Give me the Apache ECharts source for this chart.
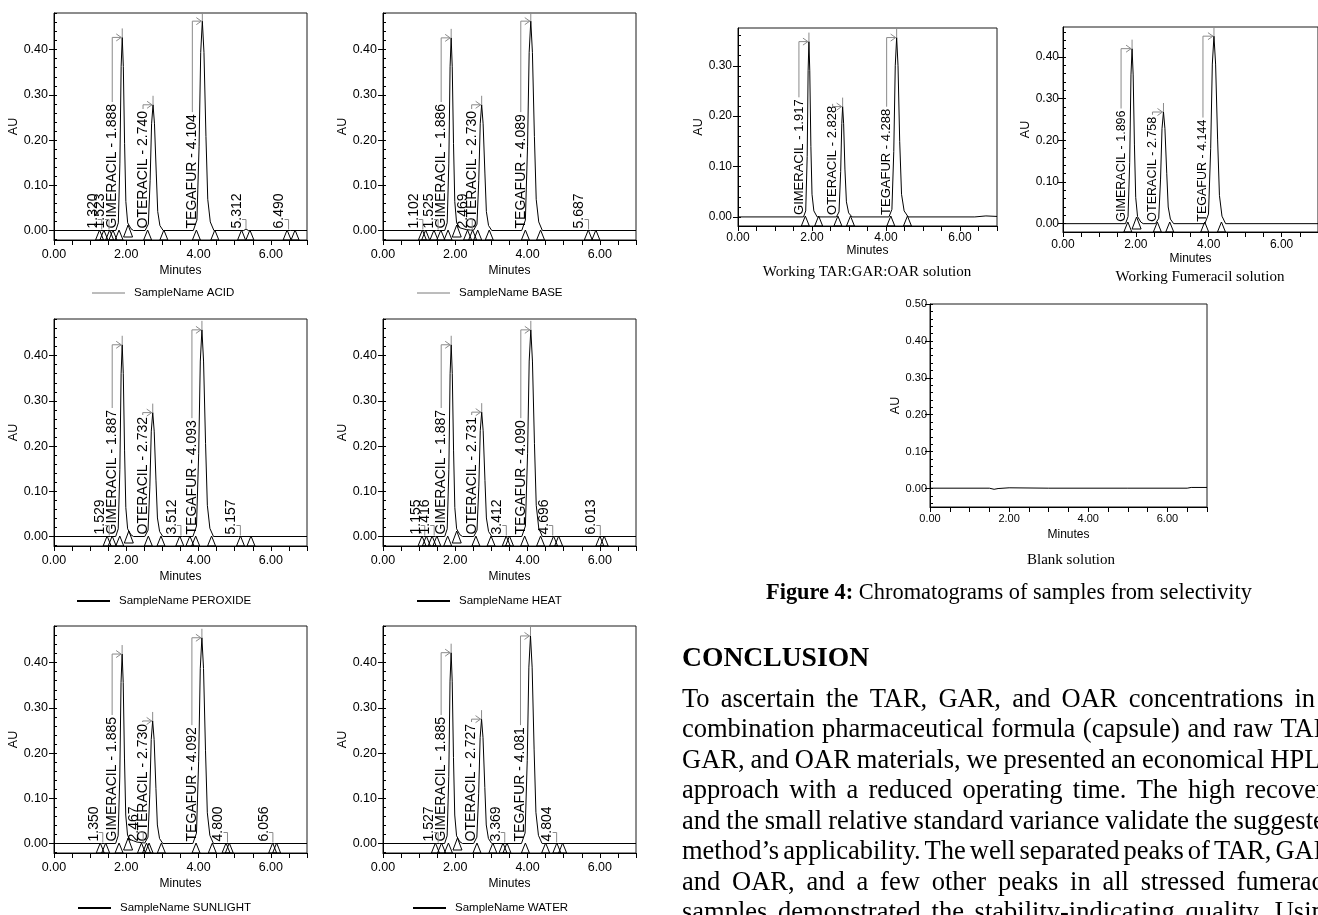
<!DOCTYPE html>
<html><head><meta charset="utf-8">
<script src="https://cdn.jsdelivr.net/npm/echarts@6/dist/echarts.min.js"></script>
<style>html,body{margin:0;padding:0;background:#fff}#c{width:1318px;height:915px}</style>
</head><body><div id="c"></div>
<script>
// ================= DATA =================
const minuteLabels = [0, 2, 4, 6];
const yLabelsSample = [0, 0.1, 0.2, 0.3, 0.4];
const yLabelsTAR = [0, 0.1, 0.2, 0.3];
const yLabelsFum = [0, 0.1, 0.2, 0.3, 0.4];
const yLabelsBlank = [0, 0.1, 0.2, 0.3, 0.4, 0.5];
const peakNames = ['GIMERACIL', 'OTERACIL', 'TEGAFUR'];
const sampleNames = ['SampleName ACID', 'SampleName BASE', 'SampleName PEROXIDE', 'SampleName HEAT', 'SampleName SUNLIGHT', 'SampleName WATER'];
const panelCaptions = ['Working TAR:GAR:OAR solution', 'Working Fumeracil solution', 'Blank solution'];

// ACID
const acidTrace = [[0,0],[1.28,0],[1.32,0.003],[1.36,0],[1.49,0],[1.523,0.004],[1.57,0],[1.71,0],[1.78,0.017],[1.823,0.149],[1.858,0.363],[1.888,0.427],[1.918,0.363],[1.953,0.192],[1.988,0.064],[2.038,0.017],[2.13,0.004],[2.2,0],[2.52,0],[2.61,0.014],[2.66,0.111],[2.70,0.236],[2.74,0.278],[2.78,0.236],[2.83,0.125],[2.87,0.042],[2.93,0.011],[3.02,0],[3.854,0],[3.954,0.023],[4.014,0.185],[4.059,0.394],[4.104,0.463],[4.149,0.394],[4.204,0.208],[4.254,0.069],[4.324,0.019],[4.424,0],[5.25,0],[5.312,0.003],[5.38,0],[6.44,0],[6.49,0.002],[6.55,0],[7,0]];
const acidRT = [1.888, 2.740, 4.104];
const acidAU = [0.427, 0.278, 0.463];
const acidMinor = [1.320, 1.523, 5.312, 6.490];
const acidTri = [[1.26,0],[1.38,0],[1.54,0],[1.63,0],[1.80,0],[2.05,1],[2.59,0],[3.04,0],[3.94,0],[4.45,0],[5.19,0],[5.42,0],[6.45,0],[6.67,0]];

// BASE
const baseTrace = [[0,0],[1.06,0],[1.102,0.002],[1.15,0],[1.48,0],[1.525,0.003],[1.57,0],[1.706,0],[1.776,0.017],[1.821,0.149],[1.856,0.362],[1.886,0.426],[1.916,0.362],[1.951,0.192],[1.986,0.064],[2.036,0.017],[2.126,0.006],[2.3,0.002],[2.42,0.001],[2.469,0.003],[2.51,0.001],[2.60,0.014],[2.65,0.111],[2.69,0.236],[2.73,0.278],[2.77,0.236],[2.82,0.125],[2.86,0.042],[2.92,0.011],[3.01,0],[3.839,0],[3.939,0.023],[3.999,0.185],[4.044,0.394],[4.089,0.463],[4.134,0.394],[4.189,0.208],[4.239,0.069],[4.309,0.019],[4.409,0],[5.64,0],[5.687,0.002],[5.74,0],[7,0]];
const baseRT = [1.886, 2.730, 4.089];
const baseAU = [0.426, 0.278, 0.463];
const baseMinor = [1.102, 1.525, 2.469, 5.687];
const baseTri = [[1.09,0],[1.18,0],[1.41,0],[1.60,0],[1.80,0],[2.04,1],[2.34,0],[2.48,0],[2.62,0],[2.94,0],[3.94,0],[4.36,0],[5.68,0],[5.89,0]];

// PEROXIDE
const peroxTrace = [[0,0],[1.49,0],[1.529,0.003],[1.57,0],[1.707,0],[1.777,0.017],[1.822,0.148],[1.857,0.36],[1.887,0.424],[1.917,0.36],[1.952,0.191],[1.987,0.064],[2.037,0.017],[2.127,0.004],[2.2,0],[2.512,0],[2.602,0.014],[2.652,0.11],[2.692,0.233],[2.732,0.274],[2.772,0.233],[2.822,0.123],[2.862,0.041],[2.922,0.011],[3.012,0],[3.47,0],[3.512,0.002],[3.56,0],[3.843,0],[3.943,0.023],[4.003,0.183],[4.048,0.388],[4.093,0.457],[4.138,0.388],[4.193,0.206],[4.243,0.069],[4.313,0.018],[4.413,0],[5.11,0],[5.157,0.002],[5.2,0],[7,0]];
const peroxRT = [1.887, 2.732, 4.093];
const peroxAU = [0.424, 0.274, 0.457];
const peroxMinor = [1.529, 3.512, 5.157];
const peroxTri = [[1.47,0],[1.61,0],[1.82,0],[2.07,1],[2.61,0],[2.96,0],[3.48,0],[3.76,0],[3.92,0],[4.36,0],[5.16,0],[5.45,0]];

// HEAT
const heatTrace = [[0,0],[1.12,0],[1.155,0.002],[1.19,0],[1.38,0],[1.416,0.003],[1.45,0],[1.707,0],[1.777,0.017],[1.822,0.148],[1.857,0.36],[1.887,0.424],[1.917,0.36],[1.952,0.191],[1.987,0.064],[2.037,0.017],[2.127,0.004],[2.2,0],[2.511,0],[2.601,0.014],[2.651,0.11],[2.691,0.234],[2.731,0.275],[2.771,0.234],[2.821,0.124],[2.861,0.041],[2.921,0.011],[3.011,0],[3.37,0],[3.412,0.002],[3.45,0],[3.84,0],[3.94,0.023],[4.0,0.183],[4.045,0.388],[4.09,0.457],[4.135,0.388],[4.19,0.206],[4.24,0.069],[4.31,0.018],[4.41,0],[4.65,0],[4.696,0.002],[4.74,0],[5.97,0],[6.013,0.002],[6.06,0],[7,0]];
const heatRT = [1.887, 2.731, 4.090];
const heatAU = [0.424, 0.275, 0.457];
const heatMinor = [1.155, 1.416, 3.412, 4.696, 6.013];
const heatTri = [[1.08,0],[1.20,0],[1.36,0],[1.49,0],[1.79,0],[2.04,1],[2.57,0],[2.99,0],[3.41,0],[3.50,0],[3.92,0],[4.36,0],[4.72,0],[4.86,0],[6.00,0],[6.12,0]];

// SUNLIGHT
const sunTrace = [[0,0],[1.31,0],[1.35,0.003],[1.39,0],[1.705,0],[1.775,0.017],[1.82,0.147],[1.855,0.356],[1.885,0.419],[1.915,0.356],[1.95,0.189],[1.985,0.063],[2.035,0.018],[2.1,0.009],[2.2,0.006],[2.3,0.003],[2.43,0.002],[2.467,0.004],[2.51,0.001],[2.60,0.014],[2.65,0.108],[2.69,0.23],[2.73,0.271],[2.77,0.23],[2.82,0.122],[2.86,0.041],[2.92,0.011],[3.01,0],[3.842,0],[3.942,0.023],[4.002,0.182],[4.047,0.387],[4.092,0.455],[4.137,0.387],[4.192,0.205],[4.242,0.068],[4.312,0.018],[4.412,0],[4.76,0],[4.8,0.002],[4.84,0],[6.01,0],[6.056,0.002],[6.1,0],[7,0]];
const sunRT = [1.885, 2.730, 4.092];
const sunAU = [0.419, 0.271, 0.455];
const sunMinor = [1.350, 2.467, 4.800, 6.056];
const sunTri = [[1.28,0],[1.43,0],[1.80,0],[2.05,1],[2.42,0],[2.56,0],[2.63,0],[2.97,0],[3.93,0],[4.38,0],[4.76,0],[4.85,0],[6.05,0],[6.16,0]];

// WATER
const waterTrace = [[0,0],[1.49,0],[1.527,0.003],[1.57,0],[1.705,0],[1.775,0.017],[1.82,0.148],[1.855,0.359],[1.885,0.422],[1.915,0.359],[1.95,0.19],[1.985,0.063],[2.035,0.017],[2.125,0.004],[2.2,0],[2.507,0],[2.597,0.014],[2.647,0.11],[2.687,0.234],[2.727,0.275],[2.767,0.234],[2.817,0.124],[2.857,0.041],[2.917,0.011],[3.007,0],[3.33,0],[3.369,0.002],[3.41,0],[3.831,0],[3.931,0.023],[3.991,0.184],[4.036,0.39],[4.081,0.459],[4.126,0.39],[4.181,0.207],[4.231,0.069],[4.301,0.018],[4.401,0],[4.76,0],[4.804,0.002],[4.85,0],[7,0]];
const waterRT = [1.885, 2.727, 4.081];
const waterAU = [0.422, 0.275, 0.459];
const waterMinor = [1.527, 3.369, 4.804];
const waterTri = [[1.45,0],[1.62,0],[1.81,0],[2.06,1],[2.60,0],[3.04,0],[3.32,0],[3.43,0],[3.94,0],[4.50,0],[4.81,0],[4.97,0]];

// Working TAR:GAR:OAR solution
const tarTrace = [[0,0],[1.77,0],[1.83,0.012],[1.87,0.12],[1.895,0.29],[1.917,0.348],[1.94,0.29],[1.97,0.14],[2.0,0.045],[2.05,0.012],[2.14,0],[2.66,0],[2.73,0.01],[2.775,0.09],[2.805,0.185],[2.828,0.219],[2.855,0.185],[2.89,0.095],[2.93,0.03],[2.99,0.008],[3.08,0],[4.08,0],[4.16,0.015],[4.21,0.13],[4.25,0.3],[4.288,0.356],[4.325,0.3],[4.37,0.15],[4.42,0.045],[4.49,0.012],[4.6,0],[6.4,0],[6.7,0.002],[7,0.001]];
const tarRT = [1.917, 2.828, 4.288];
const tarAU = [0.348, 0.219, 0.356];
const tarMinor = [];
const tarTri = [[1.82,0],[2.18,0],[2.70,0],[3.04,0],[4.13,0],[4.58,0]];

// Working Fumeracil solution
const fumTrace = [[0,0],[1.716,0],[1.786,0.017],[1.831,0.147],[1.866,0.357],[1.896,0.42],[1.926,0.357],[1.961,0.189],[1.996,0.063],[2.046,0.017],[2.136,0.004],[2.2,0],[2.538,0],[2.628,0.013],[2.678,0.107],[2.718,0.228],[2.758,0.268],[2.798,0.228],[2.848,0.121],[2.888,0.04],[2.948,0.011],[3.038,0],[3.894,0],[3.994,0.023],[4.054,0.18],[4.099,0.383],[4.144,0.45],[4.189,0.383],[4.244,0.203],[4.294,0.068],[4.364,0.018],[4.464,0],[7,0]];
const fumRT = [1.896, 2.758, 4.144];
const fumAU = [0.42, 0.268, 0.45];
const fumMinor = [];
const fumTri = [[1.78,0],[2.02,1],[2.59,0],[2.93,0],[3.89,0],[4.35,0]];

// Blank solution
const blankTrace = [[0,0.001],[1.5,0.001],[1.62,-0.002],[1.72,0],[2.0,0.002],[3.0,0.001],[5.0,0.001],[6.5,0.001],[6.6,0.003],[7,0.003]];

const paragraphLines = [
  'To ascertain the TAR, GAR, and OAR concentrations in a',
  'combination pharmaceutical formula (capsule) and raw TAR,',
  'GAR, and OAR materials, we presented an economical HPLC',
  'approach with a reduced operating time. The high recovery',
  'and the small relative standard variance validate the suggested',
  'method\u2019s applicability. The well separated peaks of TAR, GAR,',
  'and OAR, and a few other peaks in all stressed fumeracil',
  'samples demonstrated the stability-indicating quality. Using'
];

// ================= LAYOUT =================
const SANS = '"Liberation Sans", Arial, sans-serif';
const SERIF = '"Liberation Serif", "Times New Roman", serif';
const GRAY = '#8a8a8a';
const mctx = document.createElement('canvas').getContext('2d');
function measure(t, font) { mctx.font = font; return mctx.measureText(t).width; }

const leftStyle = {tick: 12.5, mx: 8, my: 6, gx: 25, gy: 30, lbl: 14, dx: -10};
const panels = [
  {trace: acidTrace, rt: acidRT, au: acidAU, minor: acidMinor, tri: acidTri, yl: yLabelsSample, box: [54, 13, 253, 227], y: [-0.021, 0.481], st: leftStyle},
  {trace: baseTrace, rt: baseRT, au: baseAU, minor: baseMinor, tri: baseTri, yl: yLabelsSample, box: [383, 13, 253, 227], y: [-0.021, 0.481], st: leftStyle},
  {trace: peroxTrace, rt: peroxRT, au: peroxAU, minor: peroxMinor, tri: peroxTri, yl: yLabelsSample, box: [54, 319, 253, 227], y: [-0.021, 0.481], st: leftStyle},
  {trace: heatTrace, rt: heatRT, au: heatAU, minor: heatMinor, tri: heatTri, yl: yLabelsSample, box: [383, 319, 253, 227], y: [-0.021, 0.481], st: leftStyle},
  {trace: sunTrace, rt: sunRT, au: sunAU, minor: sunMinor, tri: sunTri, yl: yLabelsSample, box: [54, 626, 253, 227], y: [-0.021, 0.481], st: leftStyle},
  {trace: waterTrace, rt: waterRT, au: waterAU, minor: waterMinor, tri: waterTri, yl: yLabelsSample, box: [383, 626, 253, 227], y: [-0.021, 0.481], st: leftStyle},
  {trace: tarTrace, rt: tarRT, au: tarAU, minor: tarMinor, tri: tarTri, yl: yLabelsTAR, box: [738, 28, 259, 198], y: [-0.018, 0.375], st: {tick: 12, mx: 6, my: 6, gx: 19, gy: 31, lbl: 13, dx: -10}},
  {trace: fumTrace, rt: fumRT, au: fumAU, minor: fumMinor, tri: fumTri, yl: yLabelsFum, box: [1063, 27, 265, 205], y: [-0.02, 0.472], st: {tick: 12, mx: 7, my: 4, gx: 21, gy: 30, lbl: 12.5, dx: -11}},
  {trace: blankTrace, rt: [], au: [], minor: [], tri: [], yl: yLabelsBlank, box: [930, 304, 277, 203], y: [-0.05, 0.5], st: {tick: 11, mx: 6, my: 3, gx: 22, gy: 26, lbl: 11, dx: -10}}
];

const halfMinuteTicks = [];
for (let v = 0; v <= 7.0001; v += 0.5) halfMinuteTicks.push(+v.toFixed(2));

function minorTicks(lo, hi) {
  const out = [];
  for (let k = Math.ceil(lo / 0.02 - 1e-9); k * 0.02 <= hi + 1e-9; k++) out.push(+(k * 0.02).toFixed(3));
  return out;
}

function majorRenderer(p) {
  return function (params, api) {
    const k = params.dataIndex;
    const rt = api.value(0), h = api.value(1);
    const base = api.coord([rt, 0]);
    const apex = api.coord([rt, h]);
    const txt = peakNames[k] + ' - ' + p.rt[k].toFixed(3);
    const font = p.st.lbl + 'px ' + SANS;
    const w = measure(txt, font);
    const px = base[0], ay = apex[1];
    const lx = px + p.st.dx;
    const ty = base[1] - 2;
    const topY = ty - w - 2;
    return {type: 'group', children: [
      {type: 'text', x: lx, y: ty, rotation: Math.PI / 2,
        style: {text: txt, font: font, fill: '#000', align: 'left', verticalAlign: 'middle', textAlign: 'left', textVerticalAlign: 'middle'}},
      {type: 'polyline', shape: {points: [[lx, topY], [lx, ay], [px - 1, ay]]}, style: {stroke: GRAY, fill: null, lineWidth: 1}},
      {type: 'polyline', shape: {points: [[px - 6, ay - 3.5], [px - 1, ay], [px - 6, ay + 3.5]]}, style: {stroke: GRAY, fill: null, lineWidth: 1}},
      {type: 'line', shape: {x1: px, y1: ay, x2: px, y2: ay - 9}, style: {stroke: GRAY, lineWidth: 1}}
    ]};
  };
}

function minorRenderer(p) {
  return function (params, api) {
    const rt = api.value(0);
    const base = api.coord([rt, 0]);
    const px = base[0];
    const lx = px + p.st.dx + 1;
    const font = p.st.lbl + 'px ' + SANS;
    const txt = p.minor[params.dataIndex].toFixed(3);
    return {type: 'group', children: [
      {type: 'text', x: lx, y: base[1] - 2, rotation: Math.PI / 2,
        style: {text: txt, font: font, fill: '#000', align: 'left', verticalAlign: 'middle', textAlign: 'left', textVerticalAlign: 'middle'}},
      {type: 'polyline', shape: {points: [[px - 4, base[1] - 11], [px, base[1] - 11], [px, base[1] - 1]]}, style: {stroke: GRAY, fill: null, lineWidth: 1}}
    ]};
  };
}

function triRenderer(params, api) {
  const t = api.value(0), raised = api.value(1);
  const cs = params.coordSys;
  const bottom = cs.y + cs.height;
  const x = api.coord([t, 0])[0];
  const by = raised ? bottom - 3 : bottom;
  const hgt = raised ? 12 : 10, hw = raised ? 4.5 : 4;
  return {type: 'polygon', shape: {points: [[x - hw, by], [x + hw, by], [x, by - hgt]]}, style: {stroke: '#000', fill: null, lineWidth: 1}};
}

const grid = [], xAxis = [], yAxis = [], series = [];
panels.forEach((p, i) => {
  const [l, t, w, h] = p.box;
  const st = p.st;
  grid.push({left: l, top: t, width: w, height: h, show: true, borderColor: '#1a1a1a', borderWidth: 1, backgroundColor: 'transparent'});
  xAxis.push({
    gridIndex: i, type: 'value', min: 0, max: 7,
    axisLine: {show: true, onZero: false, lineStyle: {color: '#000', width: 1}},
    axisTick: {show: true, customValues: halfMinuteTicks, length: 5, lineStyle: {color: '#000'}},
    axisLabel: {customValues: minuteLabels, formatter: v => v.toFixed(2), fontSize: st.tick, color: '#000', fontFamily: SANS, margin: st.mx},
    splitLine: {show: false},
    name: 'Minutes', nameLocation: 'middle', nameGap: st.gx,
    nameTextStyle: {fontSize: 12, color: '#000', fontFamily: SANS}
  });
  yAxis.push({
    gridIndex: i, type: 'value', min: p.y[0], max: p.y[1],
    axisLine: {show: true, onZero: false, lineStyle: {color: '#000', width: 1}},
    axisTick: {show: true, customValues: p.yl, length: 5, lineStyle: {color: '#000'}},
    axisLabel: {customValues: p.yl, formatter: v => v.toFixed(2), fontSize: st.tick, color: '#000', fontFamily: SANS, margin: st.my},
    splitLine: {show: false},
    name: 'AU', nameLocation: 'middle', nameGap: st.gy, nameRotate: 90,
    nameTextStyle: {fontSize: 12.5, color: '#000', fontFamily: SANS}
  });
  yAxis.push({
    gridIndex: i, type: 'value', min: p.y[0], max: p.y[1],
    axisLine: {show: false},
    axisTick: {show: true, customValues: minorTicks(p.y[0], p.y[1]), length: 3, lineStyle: {color: '#000'}},
    axisLabel: {show: false}, splitLine: {show: false}
  });
  const yi = 2 * i;
  series.push({type: 'custom', xAxisIndex: i, yAxisIndex: yi, data: p.tri, renderItem: triRenderer, silent: true, z: 2});
  series.push({type: 'line', xAxisIndex: i, yAxisIndex: yi, data: p.trace, showSymbol: false, symbol: 'none',
    lineStyle: {color: '#000', width: 1}, silent: true, z: 3});
  if (p.rt.length) series.push({type: 'custom', xAxisIndex: i, yAxisIndex: yi, data: p.rt.map((r, k) => [r, p.au[k]]), renderItem: majorRenderer(p), silent: true, z: 4});
  if (p.minor.length) series.push({type: 'custom', xAxisIndex: i, yAxisIndex: yi, data: p.minor.map(r => [r, 0]), renderItem: minorRenderer(p), silent: true, z: 4});
});

// ---- graphic (legends, captions, text) ----
const graphic = [];
function txt(x, y, s, font, align) {
  graphic.push({type: 'text', x: x, y: y, silent: true,
    style: {text: s, font: font, fill: '#000', align: align || 'left', verticalAlign: 'middle', textAlign: align || 'left', textVerticalAlign: 'middle'}});
}
const legendPos = [
  {x1: 92, x2: 125, tx: 134, y: 293, c: '#7a7a7a', w: 1},
  {x1: 417, x2: 450, tx: 459, y: 293, c: '#7a7a7a', w: 1},
  {x1: 77, x2: 110, tx: 119, y: 601, c: '#000', w: 2},
  {x1: 417, x2: 450, tx: 459, y: 601, c: '#000', w: 2},
  {x1: 78, x2: 111, tx: 120, y: 908, c: '#000', w: 2},
  {x1: 413, x2: 446, tx: 455, y: 908, c: '#000', w: 2}
];
legendPos.forEach((lp, i) => {
  graphic.push({type: 'line', silent: true, shape: {x1: lp.x1, y1: lp.y, x2: lp.x2, y2: lp.y}, style: {stroke: lp.c, lineWidth: lp.w}});
  txt(lp.tx, lp.y, sampleNames[i], '11.5px ' + SANS);
});
txt(867, 272, panelCaptions[0], '15px ' + SERIF, 'center');
txt(1200, 277, panelCaptions[1], '15px ' + SERIF, 'center');
txt(1071, 560, panelCaptions[2], '15px ' + SERIF, 'center');

const capBold = 'bold 22.4px ' + SERIF, capReg = '22.4px ' + SERIF;
txt(766, 593, 'Figure 4:', capBold);
txt(766 + measure('Figure 4:', capBold), 593, ' Chromatograms of samples from selectivity', capReg);

txt(682, 658.5, 'CONCLUSION', 'bold 27.6px ' + SERIF);

const paraFont = '26.5px ' + SERIF, paraLeft = 682, paraRight = 1338;
paragraphLines.forEach((line, li) => {
  const words = line.split(' ');
  const ws = words.map(wd => measure(wd, paraFont));
  const sum = ws.reduce((a, b) => a + b, 0);
  const gap = (paraRight - paraLeft - sum) / (words.length - 1);
  let x = paraLeft;
  const y = 700 + li * 30.5;
  words.forEach((wd, k) => { txt(x, y, wd, paraFont); x += ws[k] + gap; });
});

const chart = echarts.init(document.getElementById('c'), null, {renderer: 'canvas'});
chart.setOption({
  animation: false,
  backgroundColor: '#fff',
  textStyle: {fontFamily: SANS},
  grid, xAxis, yAxis, series, graphic
});
</script></body></html>
